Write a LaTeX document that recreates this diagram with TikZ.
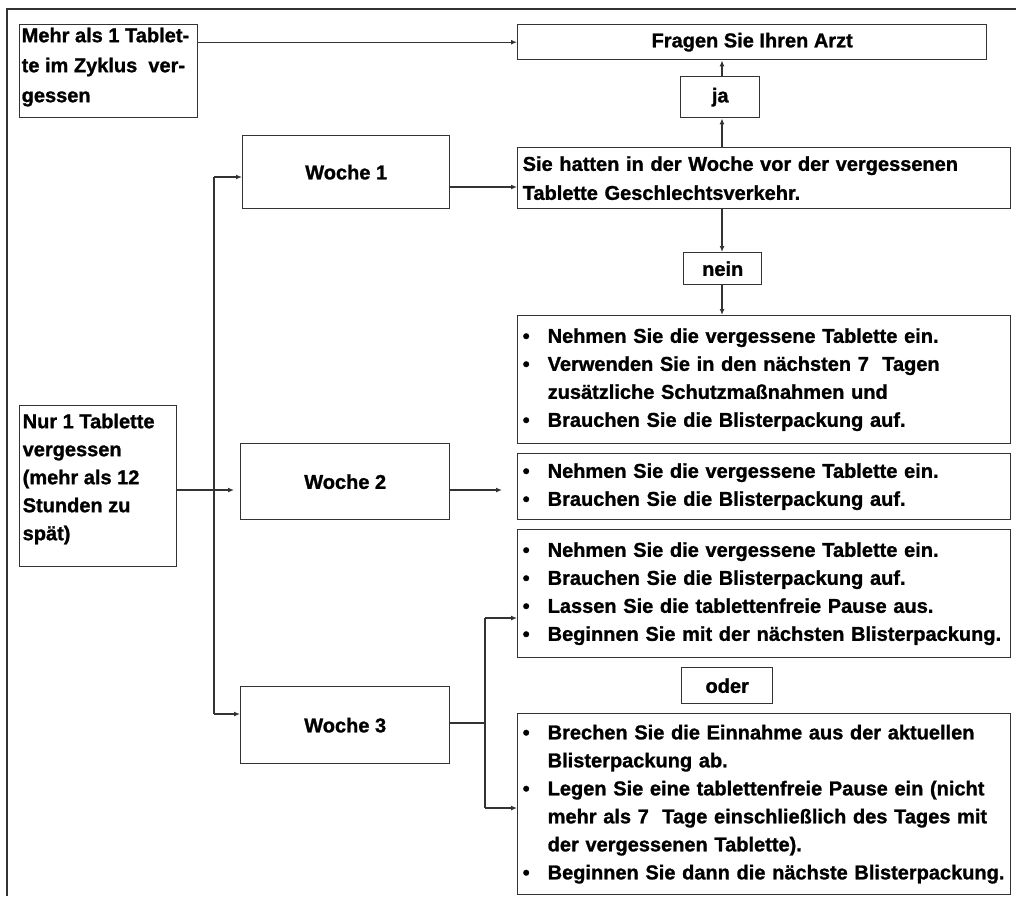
\documentclass[tikz,border=0pt]{standalone}
\usepackage{fontspec}
\setmainfont{Liberation Sans}[BoldFeatures={FakeBold=1.2}]
\usetikzlibrary{arrows.meta,calc}
\newcommand{\bul}{\makebox[25pt][l]{\textbullet}}
\newcommand{\ind}{\hspace*{25pt}}
\newcommand{\oneline}[1]{\mbox{#1}}
\begin{document}
\begin{tikzpicture}[x=1pt,y=-1pt,
  box/.style={draw=black!80,line width=1.4pt,rectangle,inner sep=0pt,anchor=north west,
    font=\fontsize{20}{28}\selectfont\bfseries},
  cbox/.style={box,align=center},
  bbox/.style={box,align=left,inner xsep=5pt,text width=483pt},
  conn/.style={draw=black!80,line width=1.3pt},
  arr/.style={conn,-{Latex[length=6pt,width=5pt]}}]
\useasboundingbox (0,0) rectangle (1016,896);
\draw[conn] (7,896) -- (7,9) -- (1016,9);

\node[box,inner xsep=2pt] (mehr) at (19,24)
  {\parbox[c][93pt][t]{174pt}{\fontsize{20}{30}\selectfont\bfseries\vspace*{3pt}\oneline{Mehr als 1 Tablet-}\\\oneline{te im Zyklus\ \ ver-}\\gessen}};
\node[box,inner xsep=3pt] (nur) at (19,405)
  {\parbox[c][161pt][t]{151pt}{\fontsize{20}{28}\selectfont\bfseries\vspace*{8pt}Nur 1 Tablette\\vergessen\\(mehr als 12\\Stunden zu\\spät)}};

\node[cbox,minimum width=469pt,minimum height=35pt] (arzt) at (517,24) {Fragen Sie Ihren Arzt};
\node[cbox,minimum width=79pt,minimum height=41pt] (ja) at (680,76) {ja};
\node[bbox,minimum height=61pt,font=\fontsize{20}{29}\selectfont\bfseries] (sex) at (517,147)
  {\oneline{Sie hatten in der Woche vor der vergessenen}\\\oneline{Tablette Geschlechtsverkehr.}};
\node[cbox,minimum width=78pt,minimum height=32pt] (nein) at (683,252) {nein};
\node[bbox,minimum height=128pt] (b1) at (517,315)
  {\oneline{\bul Nehmen Sie die vergessene Tablette ein.}\\
   \oneline{\bul Verwenden Sie in den nächsten 7\ \ Tagen}\\
   \oneline{\ind zusätzliche Schutzmaßnahmen und}\\
   \oneline{\bul Brauchen Sie die Blisterpackung auf.}};
\node[bbox,minimum height=66pt] (b2) at (517,453)
  {\oneline{\bul Nehmen Sie die vergessene Tablette ein.}\\
   \oneline{\bul Brauchen Sie die Blisterpackung auf.}};
\node[bbox,minimum height=128pt] (b3) at (517,529)
  {\oneline{\bul Nehmen Sie die vergessene Tablette ein.}\\
   \oneline{\bul Brauchen Sie die Blisterpackung auf.}\\
   \oneline{\bul Lassen Sie die tablettenfreie Pause aus.}\\
   \oneline{\bul Beginnen Sie mit der nächsten Blisterpackung.}};
\node[cbox,minimum width=91pt,minimum height=36pt] (oder) at (681,667) {oder};
\node[bbox,minimum height=181pt] (b4) at (517,713)
  {\oneline{\bul Brechen Sie die Einnahme aus der aktuellen}\\
   \oneline{\ind Blisterpackung ab.}\\
   \oneline{\bul Legen Sie eine tablettenfreie Pause ein (nicht}\\
   \oneline{\ind mehr als 7\ \ Tage einschließlich des Tages mit}\\
   \oneline{\ind der vergessenen Tablette).}\\
   \oneline{\bul Beginnen Sie dann die nächste Blisterpackung.}};

\node[cbox,minimum width=207pt,minimum height=73pt] (w1) at (242,135) {Woche 1};
\node[cbox,minimum width=209pt,minimum height=76pt] (w2) at (240,443) {Woche 2};
\node[cbox,minimum width=209pt,minimum height=77pt] (w3) at (240,686) {Woche 3};

% connectors
\coordinate (vx) at (722,0);
\draw[arr] (mehr.east |- arzt.west) -- (arzt.west);
\draw[arr] (sex.north -| vx) -- (ja.south -| vx);
\draw[arr] (ja.north -| vx) -- (arzt.south -| vx);
\draw[arr] (sex.south -| vx) -- (nein.north -| vx);
\draw[arr] (nein.south -| vx) -- (b1.north -| vx);

\coordinate (s1) at (214,177);
\coordinate (s3) at (214,714);
\coordinate (n2) at (176,490);
\coordinate (e1) at (449,187);
\draw[conn] (s1) -- (s3);
\draw[arr] (s1) -- (s1 -| w1.west);
\draw[arr] (s3) -- (s3 -| w3.west);
\draw[arr,shorten >=6pt] (nur.east |- n2) -- (n2 -| w2.west);
\draw[arr] (w1.east |- e1) -- (e1 -| sex.west);
\draw[arr,shorten >=15pt] (w2.east |- n2) -- (n2 -| b2.west);

\coordinate (f) at (485,723);
\coordinate (f3) at (485,618);
\coordinate (f4) at (485,808);
\draw[conn] (w3.east |- f) -- (f);
\draw[conn] (f3) -- (f4);
\draw[arr] (f3) -- (f3 -| b3.west);
\draw[arr] (f4) -- (f4 -| b4.west);
\end{tikzpicture}
\end{document}
